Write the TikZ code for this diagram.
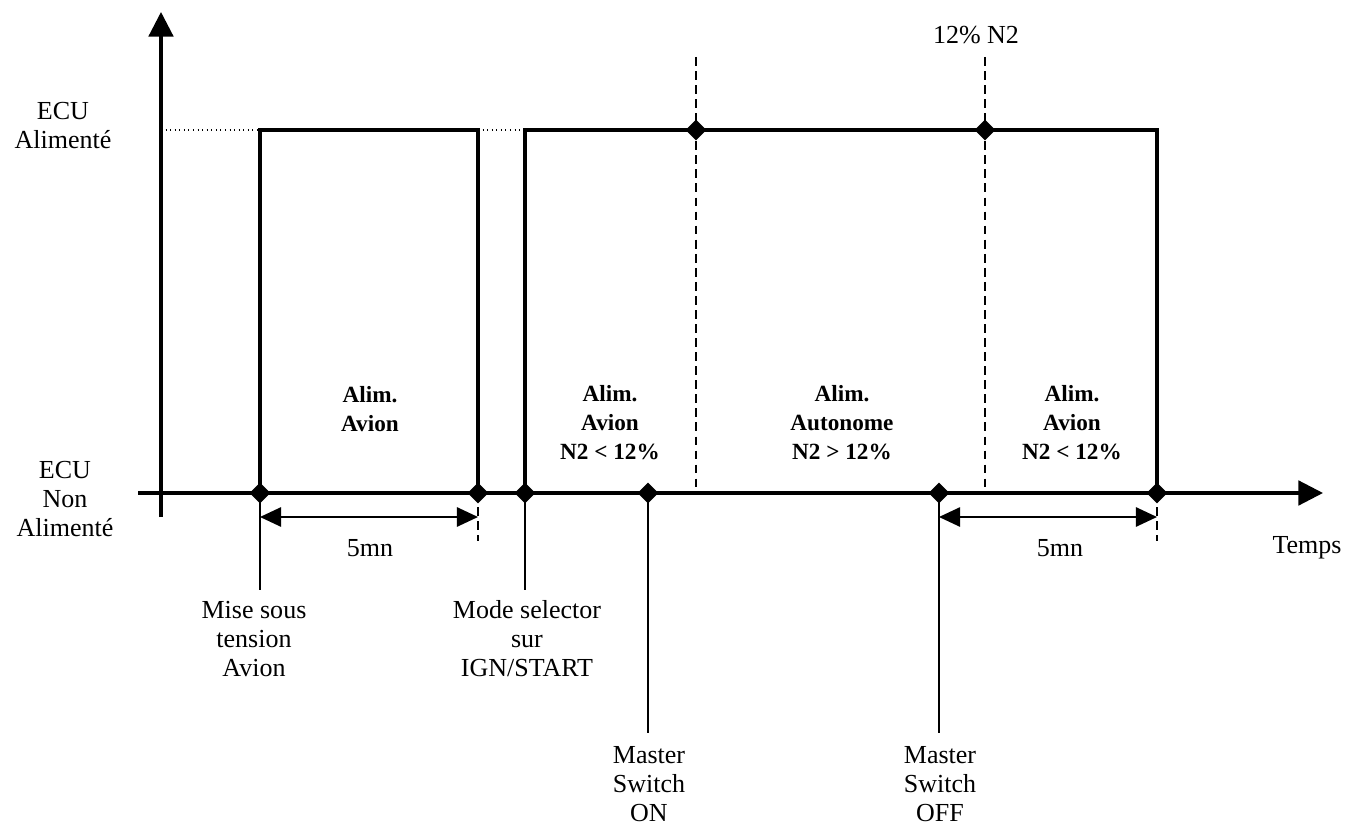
\documentclass[tikz,border=0pt]{standalone}
\usepackage{fontspec}
\setmainfont{Liberation Serif}
\usepackage{tikz}
\usetikzlibrary{positioning,calc}
\usetikzlibrary{arrows.meta,shapes.geometric}
\tikzset{
	pt/.style={diamond,fill=black,inner sep=0pt,minimum size=12pt},
	axis/.style={draw=black,line width=1.8pt,-{Triangle[length=14pt,width=14pt]}},
	pulse/.style={draw=black,line width=2.8pt,line join=miter},
	tick/.style={draw=black,line width=1pt},
	mark dash/.style={draw=black,line width=1.2pt,dash pattern=on 5pt off 3pt},
	span/.style={draw=black,line width=1pt,{Triangle[length=12pt,width=11pt]}-{Triangle[length=12pt,width=11pt]}},
	txt/.style={align=center,font=\fontsize{14.8}{16.5}\selectfont,inner sep=0pt},
	zone/.style={txt,font=\fontsize{13.2}{16.5}\selectfont\bfseries},
}
\begin{document}
\begin{tikzpicture}[x=0.02cm,y=-0.02cm]
	\useasboundingbox (0,0) rectangle (1347,828);
	% axes
	\coordinate (ybot) at (161,517);
	\coordinate (ytop) at (161,12);
	\coordinate (xbeg) at (138,493);
	\coordinate (xend) at (1323,493);
	\draw[axis] (ybot)--(ytop);
	\draw[axis] (xbeg)--(xend);
	% events on the time axis
	\foreach \n/\x in {d1/260,d2/478,d3/525,d4/648,d5/939,d6/1157}
	\coordinate (\n) at (\x,493);
	\foreach \n/\x in {u1/696,u2/985}
	\coordinate (\n) at (\x,130);
	\coordinate (h0) at (161,130);
	\coordinate (h1) at (260,130);
	\coordinate (h2) at (478,130);
	\coordinate (h3) at (525,130);
	\coordinate (h4) at (1157,130);
	% dotted level
	\draw[black,line width=0.6pt,dotted] (h0)--(h1);
	\draw[black,line width=0.6pt,dotted] (h2)--(h3);
	% dashed N2 limits
	\foreach \x in {696,985}
	\draw[mark dash] (\x,57)--(\x,493);
	% supply pulses
	\draw[pulse] (d1)--(h1)--(h2)--(d2)--cycle;
	\draw[pulse] (d3)--(h3)--(h4)--(d6)--cycle;
	% event lines
	\foreach \p/\y in {d1/590,d3/590,d4/733,d5/733}
	\draw[tick] (\p)--(\p|-0,\y);
	\foreach \p in {d2,d6}
	\draw[mark dash,line width=1pt] (\p)--(\p|-0,541);
	\draw[span] (260,517)--(478,517);
	\draw[span] (939,517)--(1157,517);
	\foreach \p in {d1,d2,d3,d4,d5,d6,u1,u2}
	\node[pt] (n\p) at (\p) {};
	% labels
	\node[txt] (lon) at (63,126) {ECU\\Alimenté};
	\node[txt] (loff) at (65,499) {ECU\\Non\\Alimenté};
	\node[txt] (ltime) at (1307,548) {Temps};
	\node[txt] (lmin1) at (370,548) {5mn};
	\node[txt] (lmin2) at (1060,548) {5mn};
	\node[txt] (lpct) at (976,35) {12\% N2};
	\node[txt] (lmise) at (254,639) {Mise sous\\tension\\Avion};
	\node[txt] (lmode) at (527,639) {Mode selector\\sur\\IGN/START};
	\node[txt] (lmon) at (649,784) {Master\\Switch\\ON};
	\node[txt] (lmoff) at (940,784) {Master\\Switch\\OFF};
	\node[zone] (z1) at (370,409) {Alim.\\Avion};
	\node[zone] (z2) at (610,423) {Alim.\\Avion\\N2 < 12\%};
	\node[zone] (z3) at (842,423) {Alim.\\Autonome\\N2 > 12\%};
	\node[zone] (z4) at (1072,423) {Alim.\\Avion\\N2 < 12\%};
\end{tikzpicture}
\end{document}
